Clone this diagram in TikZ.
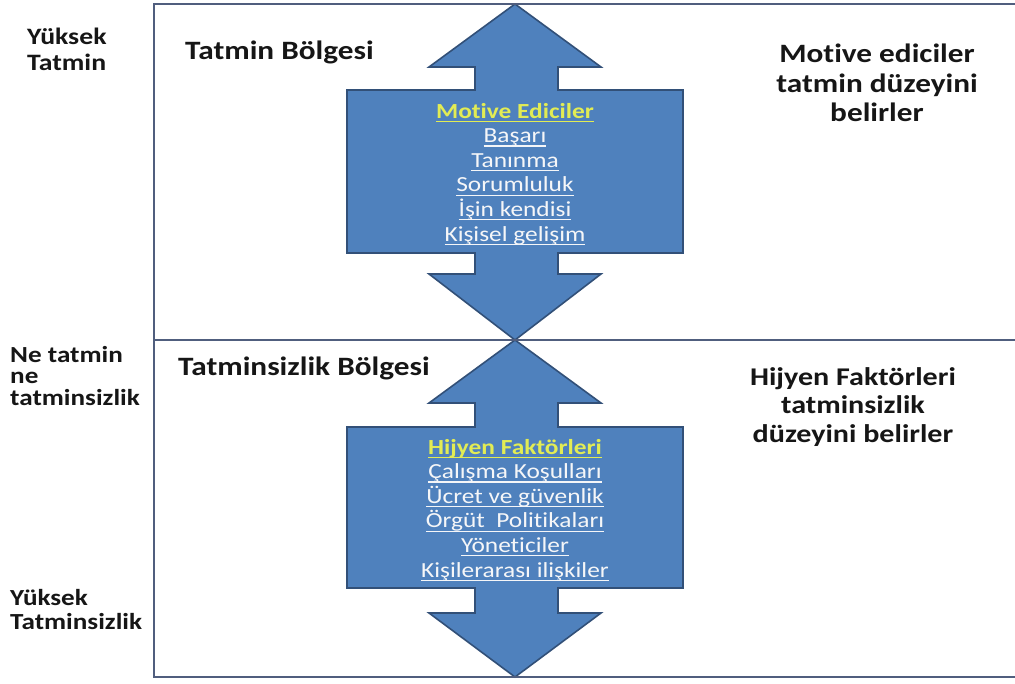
\documentclass[tikz,border=0pt]{standalone}
\usepackage{fontspec}
\setmainfont{Carlito}[FakeStretch=1.18, Ligatures={NoCommon}]
\definecolor{frameC}{RGB}{80,94,126}
\definecolor{arrowF}{RGB}{79,129,189}
\definecolor{arrowD}{RGB}{50,80,120}
\definecolor{titleC}{RGB}{226,236,84}
\definecolor{itemC}{RGB}{245,246,248}
\definecolor{textC}{RGB}{22,22,22}
\newcommand\ulx[1]{\setbox0=\hbox{#1}\rlap{\rule[-4pt]{\wd0}{1.3pt}}\box0}
\begin{document}
\begin{tikzpicture}[x=1pt,y=-1pt,
  frameline/.style={draw=frameC, line width=2.4pt},
  bigarrow/.style={fill=arrowF, draw=arrowD, line width=1.6pt, line join=miter},
  sidelbl/.style={font=\bfseries\fontsize{23.5}{26}\selectfont, text=textC, align=left, inner sep=0pt},
  zonelbl/.style={font=\bfseries\fontsize{26.5}{29}\selectfont, text=textC, inner sep=0pt},
  notelbl/.style={font=\bfseries\fontsize{26.5}{29.5}\selectfont, text=textC, align=center, inner sep=0pt},
  boxtxt/.style={font=\fontsize{21.5}{24.6}\selectfont, text=itemC, align=center, inner sep=0pt}
]
\useasboundingbox (0,0) rectangle (1015,683);
\fill[white] (0,0) rectangle (1015,683);

% arrows
\draw[bigarrow] (515,4) -- (601,67) -- (558,67) -- (558,90) -- (683,90) -- (683,253) -- (558,253) -- (558,274) -- (601,274) -- (515,340) -- (429,274) -- (475,274) -- (475,253) -- (347,253) -- (347,90) -- (475,90) -- (475,67) -- (429,67) -- cycle;
\draw[bigarrow] (515,340) -- (601,403) -- (558,403) -- (558,427) -- (683,427) -- (683,588) -- (558,588) -- (558,613) -- (601,613) -- (515,677) -- (429,613) -- (475,613) -- (475,588) -- (347,588) -- (347,427) -- (475,427) -- (475,403) -- (429,403) -- cycle;

% frame
\coordinate (tl) at (154,4);
\coordinate (tr) at (1015,4);
\coordinate (ml) at (154,340);
\coordinate (mr) at (1015,340);
\coordinate (bl) at (154,677);
\coordinate (br) at (1015,677);
\draw[frameline] (tr) -- (tl) -- (bl) -- (br);
\draw[frameline] (ml) -- (mr);

% zone titles
\node[zonelbl, anchor=west] (zoneA) at (185,52) {Tatmin Bölgesi};
\node[zonelbl, anchor=west] (zoneB) at (178,368) {Tatminsizlik Bölgesi};

% side labels
\node[sidelbl, anchor=west] (hiSat) at (27,49) {Yüksek\\Tatmin};
\node[sidelbl, anchor=west, font=\bfseries\fontsize{23}{21.5}\selectfont] (neutral) at (10,376) {Ne tatmin\\ne\\tatminsizlik};
\node[sidelbl, anchor=west, font=\bfseries\fontsize{23}{24}\selectfont] (hiDis) at (10,610) {Yüksek\\Tatminsizlik};

% notes
\node[notelbl] (noteA) at (877,83) {Motive ediciler\\tatmin düzeyini\\belirler};
\node[notelbl, font=\bfseries\fontsize{25.5}{28.5}\selectfont] (noteB) at (853,407) {Hijyen Faktörleri\\tatminsizlik\\düzeyini belirler};

% arrow contents
\node[boxtxt] (motive) at (515,174) {\textcolor{titleC}{\bfseries\ulx{Motive Ediciler}}\\ \ulx{Başarı}\\ \ulx{Tanınma}\\ \ulx{Sorumluluk}\\ \ulx{İşin kendisi}\\ \ulx{Kişisel gelişim}};
\node[boxtxt] (hygiene) at (515,510) {\textcolor{titleC}{\bfseries\ulx{Hijyen Faktörleri}}\\ \ulx{Çalışma Koşulları}\\ \ulx{Ücret ve güvenlik}\\ \ulx{Örgüt\ \ Politikaları}\\ \ulx{Yöneticiler}\\ \ulx{Kişilerarası ilişkiler}};
\end{tikzpicture}
\end{document}
